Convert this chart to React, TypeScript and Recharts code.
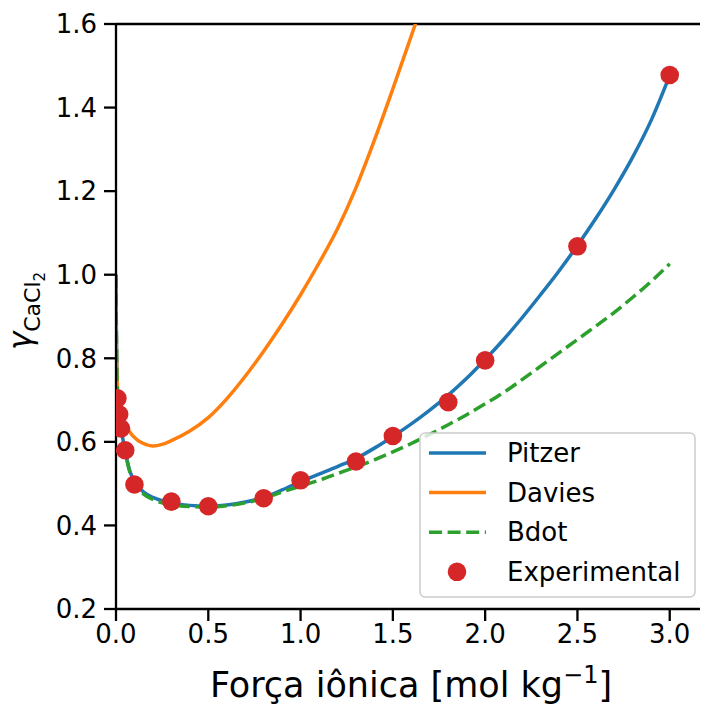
import { ComposedChart, Line, Scatter, XAxis, YAxis, ReferenceLine } from "recharts"

// ionic strength (mol/kg) and activity coefficient
const pitzerI = [0, 0.002, 0.005, 0.01, 0.02, 0.03, 0.05, 0.075, 0.1, 0.15, 0.2, 0.3, 0.4, 0.5, 0.6, 0.7, 0.8, 0.9, 1.0, 1.1, 1.2, 1.3, 1.4, 1.5, 1.6, 1.7, 1.8, 1.9, 2.0, 2.1, 2.2, 2.3, 2.4, 2.5, 2.6, 2.7, 2.8, 2.9, 3.0]
const pitzerGamma = [1.0, 0.86, 0.76, 0.7, 0.655, 0.625, 0.578, 0.53, 0.505, 0.48, 0.467, 0.454, 0.448, 0.446, 0.449, 0.456, 0.467, 0.485, 0.505, 0.523, 0.541, 0.56, 0.585, 0.613, 0.643, 0.676, 0.712, 0.752, 0.797, 0.845, 0.897, 0.952, 1.009, 1.07, 1.135, 1.205, 1.282, 1.37, 1.477]

const daviesI = [0, 0.002, 0.005, 0.01, 0.03, 0.07, 0.12, 0.16, 0.2, 0.25, 0.3, 0.4, 0.5, 0.6, 0.7, 0.8, 0.9, 1.0, 1.1, 1.2, 1.3, 1.4, 1.5, 1.6, 1.7]
const daviesGamma = [1.0, 0.84, 0.76, 0.72, 0.66, 0.626, 0.603, 0.594, 0.59, 0.594, 0.603, 0.626, 0.658, 0.703, 0.757, 0.817, 0.882, 0.952, 1.028, 1.11, 1.208, 1.322, 1.445, 1.572, 1.7]

const bdotI = [0, 0.002, 0.005, 0.01, 0.02, 0.03, 0.05, 0.075, 0.1, 0.15, 0.2, 0.3, 0.4, 0.5, 0.6, 0.7, 0.8, 0.9, 1.0, 1.1, 1.2, 1.3, 1.4, 1.5, 1.6, 1.7, 1.8, 1.9, 2.0, 2.1, 2.2, 2.3, 2.4, 2.5, 2.6, 2.7, 2.8, 2.9, 3.0]
const bdotGamma = [1.0, 0.86, 0.76, 0.7, 0.655, 0.625, 0.575, 0.527, 0.5, 0.475, 0.462, 0.45, 0.445, 0.444, 0.447, 0.454, 0.465, 0.48, 0.494, 0.508, 0.524, 0.54, 0.557, 0.576, 0.596, 0.618, 0.641, 0.665, 0.691, 0.718, 0.749, 0.781, 0.813, 0.845, 0.877, 0.91, 0.946, 0.984, 1.026]

const expI = [0.0075, 0.017, 0.027, 0.05, 0.1, 0.3, 0.5, 0.8, 1.0, 1.3, 1.5, 1.8, 2.0, 2.5, 3.0]
const expGamma = [0.704, 0.666, 0.632, 0.58, 0.498, 0.457, 0.446, 0.465, 0.508, 0.553, 0.614, 0.695, 0.795, 1.068, 1.478]

const xTicks = [0, 0.5, 1.0, 1.5, 2.0, 2.5, 3.0]
const yTicks = [0.2, 0.4, 0.6, 0.8, 1.0, 1.2, 1.4, 1.6]

const zip = (xs: number[], ys: number[]) => xs.map((x, i) => ({ x, y: ys[i] }))

const pitzer = zip(pitzerI, pitzerGamma)
const davies = zip(daviesI, daviesGamma)
const bdot = zip(bdotI, bdotGamma)
const experimental = zip(expI, expGamma)

const FONT = "DejaVu Sans"
const BLUE = "#1f77b4"
const ORANGE = "#ff7f0e"
const GREEN = "#2ca02c"
const RED = "#d62728"

const legendItems = [
  { name: "Pitzer", color: BLUE, kind: "line" },
  { name: "Davies", color: ORANGE, kind: "line" },
  { name: "Bdot", color: GREEN, kind: "dash" },
  { name: "Experimental", color: RED, kind: "dot" },
]

function LegendBox() {
  return (
    <svg width={277} height={166} style={{ display: "block" }}>
      <rect x={1} y={1} width={275} height={164} rx={5} fill="rgba(255,255,255,0.8)" stroke="#cccccc" strokeWidth={1.5} />
      {legendItems.map((it, i) => {
        const cy = 21 + i * 39.6
        return (
          <g key={it.name}>
            {it.kind === "dot" ? (
              <circle cx={38} cy={cy} r={9.3} fill={it.color} />
            ) : (
              <line x1={10} x2={67} y1={cy} y2={cy} stroke={it.color} strokeWidth={3.5}
                strokeDasharray={it.kind === "dash" ? "13 5.6" : undefined} />
            )}
            <text x={88} y={cy + 9} fontFamily={FONT} fontSize={26} fill="#000">{it.name}</text>
          </g>
        )
      })}
    </svg>
  )
}

function YLabel() {
  return (
    <text x={31} y={311} transform="rotate(-90, 31, 311)" textAnchor="middle" fontFamily={FONT} fill="#000">
      <tspan fontSize={31} fontStyle="italic">γ</tspan>
      <tspan fontSize={22} dy={9}>CaCl</tspan>
      <tspan fontSize={15} dy={5}>2</tspan>
    </text>
  )
}

function XLabel(props: any) {
  const vb = props.viewBox || { x: 116, width: 584 }
  const cx = vb.x + vb.width / 2 + 3
  return (
    <text x={cx} y={697} textAnchor="middle" fontFamily={FONT} fontSize={35} fill="#000">
      <tspan>Força iônica [mol kg</tspan>
      <tspan fontSize={24} dy={-14}>−1</tspan>
      <tspan dy={14}>]</tspan>
    </text>
  )
}

export default function App() {
  const tickStyle = { fontSize: 26, fill: "#000", fontFamily: FONT }
  return (
    <div style={{ position: "absolute", left: 0, top: 0, width: 701, height: 705, background: "#fff" }}>
      <ComposedChart width={701} height={705} margin={{ top: 24, right: 1, left: 46, bottom: 46 }}>
        <XAxis
          type="number"
          dataKey="x"
          domain={[0, 3.164]}
          ticks={xTicks}
          allowDataOverflow
          tickFormatter={(v: number) => v.toFixed(1)}
          tick={tickStyle}
          tickSize={12}
          tickMargin={4}
          height={50}
          axisLine={{ stroke: "#000", strokeWidth: 2.3 }}
          tickLine={{ stroke: "#000", strokeWidth: 2.3 }}
          label={{ content: XLabel }}
        />
        <YAxis
          type="number"
          dataKey="y"
          domain={[0.2, 1.6]}
          ticks={yTicks}
          allowDataOverflow
          tickFormatter={(v: number) => v.toFixed(1)}
          tick={tickStyle}
          tickSize={12}
          tickMargin={7}
          width={70}
          axisLine={{ stroke: "#000", strokeWidth: 2.3 }}
          tickLine={{ stroke: "#000", strokeWidth: 2.3 }}
          label={{ content: YLabel }}
        />
        <ReferenceLine y={1.6} stroke="#000" strokeWidth={2.3} />
        <Line data={pitzer} dataKey="y" name="Pitzer" type="monotone" stroke={BLUE} strokeWidth={3.5} dot={false} isAnimationActive={false} />
        <Line data={davies} dataKey="y" name="Davies" type="monotone" stroke={ORANGE} strokeWidth={3.5} dot={false} isAnimationActive={false} />
        <Line data={bdot} dataKey="y" name="Bdot" type="monotone" stroke={GREEN} strokeWidth={3.5} strokeDasharray="13 5.6" dot={false} isAnimationActive={false} />
        <Scatter
          data={experimental}
          dataKey="y"
          name="Experimental"
          fill={RED}
          isAnimationActive={false}
          shape={(p: any) => <circle cx={p.cx} cy={p.cy} r={9.3} fill={RED} />}
        />
      </ComposedChart>
      <div style={{ position: "absolute", left: 419, top: 432 }}>
        <LegendBox />
      </div>
    </div>
  )
}
